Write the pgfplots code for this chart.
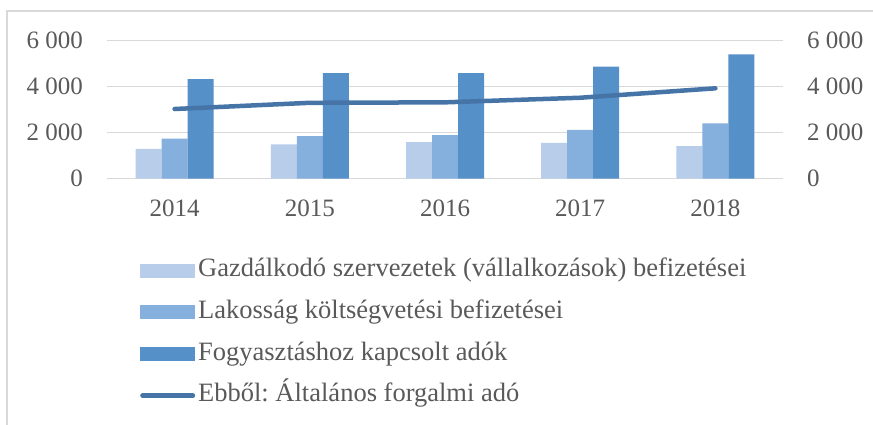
\documentclass[border=0pt]{standalone}
\usepackage{pgfplots}
\pgfplotsset{compat=1.18}
\usepackage{fontspec}
\setmainfont{Liberation Serif}
\frenchspacing
\definecolor{cLight}{HTML}{B8CDE9}
\definecolor{cMed}{HTML}{85AFDD}
\definecolor{cDark}{HTML}{5590C8}
\definecolor{cLine}{HTML}{4674A7}
\definecolor{cGrid}{HTML}{D9D9D9}
\definecolor{cText}{HTML}{595959}
\begin{document}
\begin{tikzpicture}
\path[use as bounding box] (0,0) rectangle (873bp,425bp);
\draw[cGrid, line width=1.2bp] (7bp,0) -- (7bp,414bp) -- (873bp,414bp);
\begin{axis}[
  at={(107bp,246.3bp)}, anchor=south west,
  scale only axis, width=676bp, height=138bp,
  xmin=-0.5, xmax=4.5, ymin=0, ymax=6000,
  axis line style={draw=none},
  major tick length=0pt,
  ytick={0,2000,4000,6000},
  yticklabels={0,2\hspace{0.25em}000,4\hspace{0.25em}000,6\hspace{0.25em}000},
  xtick={0,1,2,3,4},
  xticklabels={2014,2015,2016,2017,2018},
  ymajorgrids, major grid style={cGrid, line width=1.5bp},
  tick label style={font=\fontsize{25bp}{29bp}\selectfont, text=cText, inner sep=0pt},
  yticklabel style={anchor=east, xshift=-24bp},
  xticklabel style={anchor=north, yshift=-21bp},
  ybar=0pt, bar width=26bp,
  legend style={at={(axis description cs:0.0488,-0.585)}, anchor=north west,
    draw=none, fill=none, inner sep=0pt,
    font=\fontsize{26.5bp}{30bp}\selectfont, text=cText,
    nodes={inner sep=0pt, text height=17bp, text depth=5bp},
    row sep=19.7bp, column sep=3bp},
  legend cell align=left,
]
\addplot[fill=cLight, draw=none, legend image code/.code={\fill[cLight] (0bp,-7bp) rectangle (55bp,7bp);}]
  coordinates {(0,1300) (1,1495) (2,1585) (3,1555) (4,1420)};
\addlegendentry{Gazdálkodó szervezetek (vállalkozások) befizetései}
\addplot[fill=cMed, draw=none, legend image code/.code={\fill[cMed] (0bp,-7bp) rectangle (55bp,7bp);}]
  coordinates {(0,1740) (1,1855) (2,1900) (3,2120) (4,2410)};
\addlegendentry{Lakosság költségvetési befizetései}
\addplot[fill=cDark, draw=none, legend image code/.code={\fill[cDark] (0bp,-7bp) rectangle (55bp,7bp);}]
  coordinates {(0,4325) (1,4585) (2,4585) (3,4870) (4,5410)};
\addlegendentry{Fogyasztáshoz kapcsolt adók}
\addplot[sharp plot, cLine, line width=4.5bp, line cap=round, line join=round, mark=none,
  legend image code/.code={\draw[cLine, line width=5bp, line cap=round] (2.5bp,0) -- (52.5bp,0);}]
  coordinates {(0,3030) (1,3300) (2,3320) (3,3520) (4,3930)};
\addlegendentry{Ebből: Általános forgalmi adó}
\end{axis}
\begin{axis}[
  at={(107bp,246.3bp)}, anchor=south west,
  scale only axis, width=676bp, height=138bp,
  xmin=-0.5, xmax=4.5, ymin=0, ymax=6000,
  axis y line*=right, axis x line=none,
  axis line style={draw=none},
  major tick length=0pt,
  ytick={0,2000,4000,6000},
  yticklabels={0,2\hspace{0.25em}000,4\hspace{0.25em}000,6\hspace{0.25em}000},
  tick label style={font=\fontsize{25bp}{29bp}\selectfont, text=cText, inner sep=0pt},
  yticklabel style={anchor=west, xshift=24bp},
]
\addplot[draw=none, forget plot] coordinates {(0,0)};
\end{axis}
\end{tikzpicture}
\end{document}
